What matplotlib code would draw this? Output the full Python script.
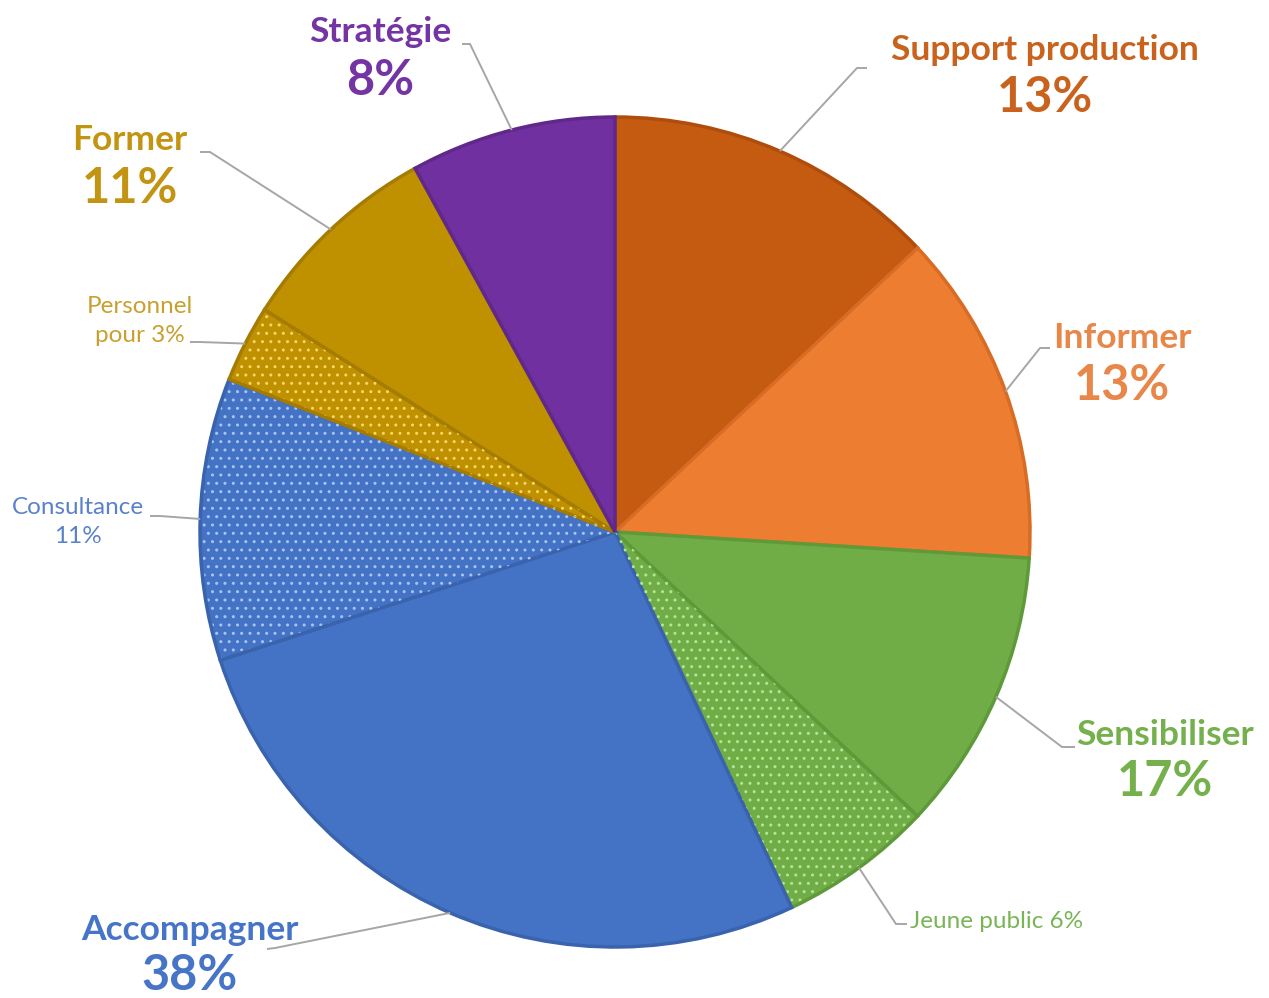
import math
import matplotlib
matplotlib.use("Agg")
import matplotlib.pyplot as plt
from matplotlib.patches import Wedge

plt.rcParams['font.family'] = ['Lato', 'DejaVu Sans']

# ---- data ----
slice_names = ["Support production", "Informer", "Sensibiliser", "Jeune public",
               "Accompagner", "Consultance", "Personnel pour", "Former", "Stratégie"]
slice_values = [13, 13, 11, 6, 27, 11, 3, 8, 8]
slice_hatched = [False, False, False, True, False, True, True, False, False]

main_labels = ["Support production", "Informer", "Sensibiliser", "Accompagner", "Former", "Stratégie"]
main_pcts = [13, 13, 17, 38, 11, 8]
sub_labels = ["Jeune public", "Consultance", "Personnel pour"]
sub_pcts = [6, 11, 3]

# ---- styles ----
face_colors = ["#C55A11", "#ED7D31", "#70AD47", "#70AD47", "#4472C4", "#4472C4",
               "#BF9000", "#BF9000", "#7030A0"]
edge_colors = ["#AE4D0C", "#D86C24", "#5F9A3A", "#5F9A3A", "#3A63AE", "#3A63AE",
               "#A57C00", "#A57C00", "#5F2889"]
dot_colors = [None, None, None, "#B5E496", None, "#A9C3F0", "#F6D764", None, None]
text_colors = {"Support production": "#C8621C", "Informer": "#E8874A",
               "Sensibiliser": "#74B04C", "Accompagner": "#4674C6",
               "Former": "#C39412", "Stratégie": "#7434A4",
               "Jeune public": "#79B556", "Consultance": "#5A82CC",
               "Personnel pour": "#C9A02E"}

W, H = 1269, 998
fig = plt.figure(figsize=(W / 100, H / 100), dpi=100)
ax = fig.add_axes([0, 0, 1, 1])


def P(x, y):
    return (x, H - y)


cx, cy = P(615, 532)
R = 415

wedges, _ = ax.pie(slice_values, colors=face_colors, startangle=90, counterclock=False,
                   center=(cx, cy), radius=R, frame=True,
                   wedgeprops=dict(linewidth=2.5))
ax.set_xlim(0, W)
ax.set_ylim(0, H)
ax.set_aspect('equal')
ax.axis('off')
for w, ec in zip(wedges, edge_colors):
    w.set_edgecolor(ec)

for w, hatched, dc in zip(wedges, slice_hatched, dot_colors):
    if hatched:
        hw = Wedge(w.center, w.r - 2, w.theta1 + 0.3, w.theta2 - 0.3, facecolor='none',
                   edgecolor=dc, linewidth=0, hatch='..')
        ax.add_patch(hw)


def mid_point(name):
    w = wedges[slice_names.index(name)]
    a = math.radians((w.theta1 + w.theta2) / 2)
    return (w.center[0] + w.r * math.cos(a), w.center[1] + w.r * math.sin(a))


leader_color = "#A6A6A6"


def leader(name, start, elbow):
    mx, my = mid_point(name)
    sx, sy = P(*start)
    ex, ey = P(*elbow)
    ax.plot([sx, ex, mx], [sy, ey, my], color=leader_color, lw=1.4, solid_capstyle='butt', zorder=1)


# main labels: name position, pct position, leader start, leader elbow
main_layout = {
    "Support production": ((1045, 50), (1045, 97), (867, 68), (857, 68)),
    "Informer": ((1122, 338), (1122, 385), (1050, 348), (1040, 348)),
    "Sensibiliser": ((1165, 735), (1165, 782), (1075, 747), (1062, 747)),
    "Accompagner": ((190, 930), (190, 975), (267, 949), (275, 948)),
    "Former": ((130, 140), (130, 188), (200, 152), (210, 152)),
    "Stratégie": ((380, 32), (380, 80), (462, 44), (470, 44)),
}
for lab, pct in zip(main_labels, main_pcts):
    npos, ppos, st, el = main_layout[lab]
    c = text_colors[lab]
    ax.text(*P(*npos), lab, ha='center', va='center', fontsize=25.5, fontweight='bold', color=c)
    ax.text(*P(*ppos), f"{pct}%", ha='center', va='center', fontsize=35, fontweight='bold', color=c)
    leader(lab, st, el)

# sub labels
sub_layout = {
    "Jeune public": ((910, 922), 'left', (907, 924), (896, 924)),
    "Consultance": ((78, 522), 'center', (150, 516), (160, 516)),
    "Personnel pour": ((140, 321), 'center', (190, 342), (200, 342)),
}
for lab, pct in zip(sub_labels, sub_pcts):
    pos, ha, st, el = sub_layout[lab]
    if lab == "Jeune public":
        txt = f"{lab} {pct}%"
    elif lab == "Consultance":
        txt = f"{lab}\n{pct}%"
    else:
        txt = "Personnel\npour " + f"{pct}%"
    ax.text(*P(*pos), txt, ha=ha, va='center', multialignment='center', fontsize=17.5,
            color=text_colors[lab], linespacing=1.42)
    leader(lab, st, el)

fig.savefig("out.png", dpi=100, facecolor='white')
